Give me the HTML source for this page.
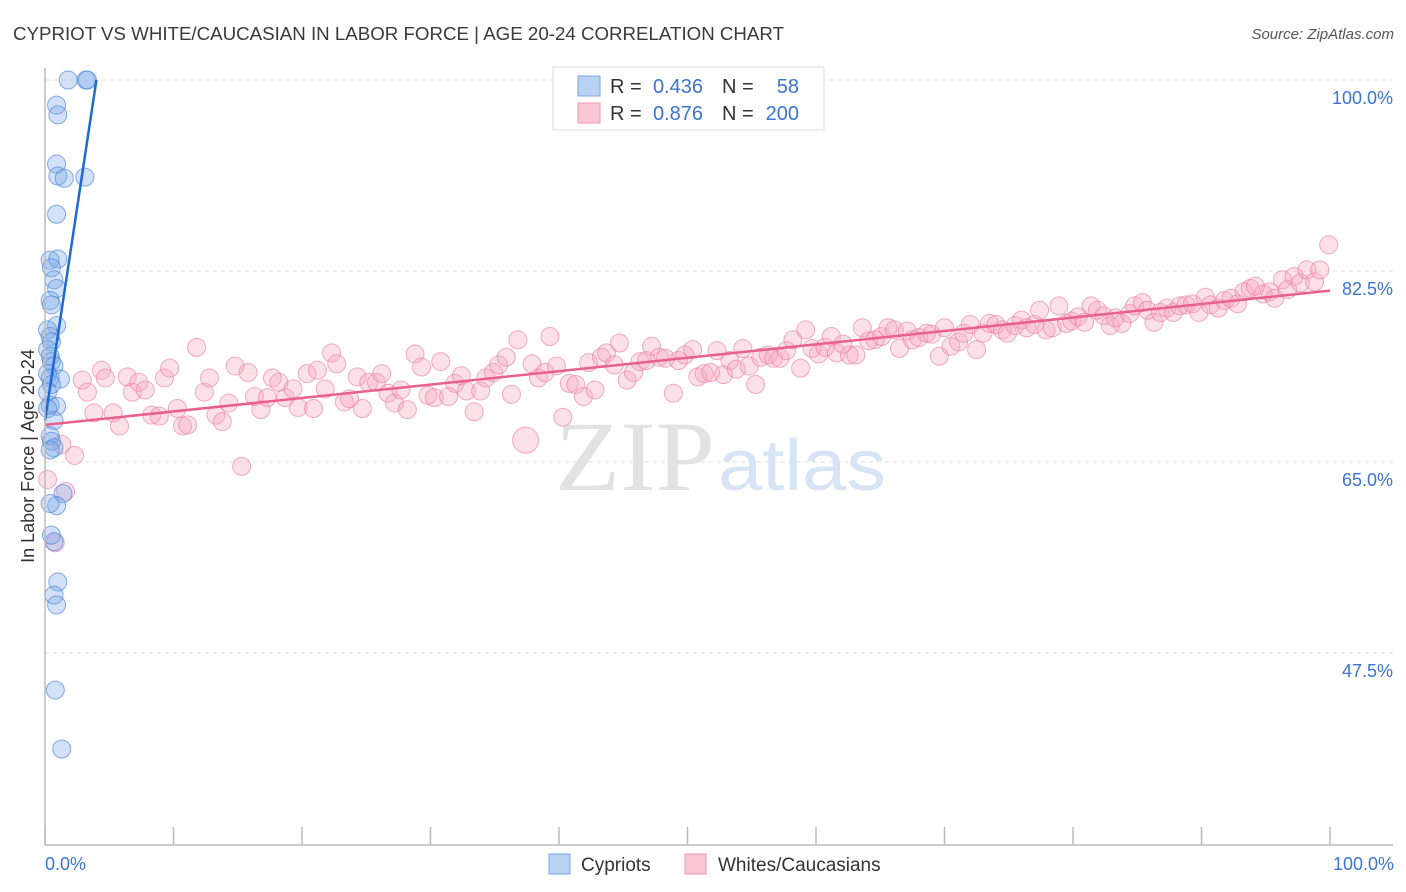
<!DOCTYPE html>
<html><head><meta charset="utf-8"><style>
body{margin:0;background:#fff;font-family:"Liberation Sans",sans-serif;}
svg{display:block}
</style></head><body>
<svg id="chart" width="1406" height="892" viewBox="0 0 1406 892" xmlns="http://www.w3.org/2000/svg">
<text x="13" y="40" font-size="18" fill="#3a3a3a" textLength="771" lengthAdjust="spacingAndGlyphs">CYPRIOT VS WHITE/CAUCASIAN IN LABOR FORCE | AGE 20-24 CORRELATION CHART</text>
<text x="1394" y="39" font-size="15" font-style="italic" fill="#555" text-anchor="end">Source: ZipAtlas.com</text>
<g id="grid"></g>
<text x="555" y="490" font-size="100" font-family="Liberation Serif,serif" fill="#e2e2e2" textLength="160" lengthAdjust="spacingAndGlyphs">ZIP</text>
<text x="718" y="490" font-size="72" fill="#d6e4f6" textLength="168" lengthAdjust="spacingAndGlyphs">atlas</text>
<g id="pinkpts"></g>
<g id="bluepts"></g>
<g id="lines"></g>
<g id="axes"></g>
<text transform="translate(34,456) rotate(-90)" font-size="18" fill="#333" text-anchor="middle">In Labor Force | Age 20-24</text>
<text x="45" y="870" font-size="18" fill="#3b74d4">0.0%</text>
<text x="1394" y="870" font-size="18" fill="#3b74d4" text-anchor="end">100.0%</text>
<g>
<rect x="553" y="67" width="271" height="63" fill="#fff" stroke="#ddd"/>
<rect x="578" y="76" width="22" height="20" fill="#b8d2f3" stroke="#7aa6e3"/>
<rect x="578" y="103" width="22" height="20" fill="#f8c6d5" stroke="#eb9ab4"/>
<text x="610" y="93" font-size="20" fill="#333">R =</text>
<text x="703" y="93" font-size="20" fill="#3b74d4" text-anchor="end">0.436</text>
<text x="722" y="93" font-size="20" fill="#333">N =</text>
<text x="799" y="93" font-size="20" fill="#3b74d4" text-anchor="end">58</text>
<text x="610" y="120" font-size="20" fill="#333">R =</text>
<text x="703" y="120" font-size="20" fill="#3b74d4" text-anchor="end">0.876</text>
<text x="722" y="120" font-size="20" fill="#333">N =</text>
<text x="799" y="120" font-size="20" fill="#3b74d4" text-anchor="end">200</text>
</g>
<g>
<rect x="549" y="854" width="21" height="20" fill="#b8d2f3" stroke="#7aa6e3"/>
<text x="581" y="871" font-size="19" fill="#333">Cypriots</text>
<rect x="685" y="854" width="21" height="20" fill="#f8c6d5" stroke="#eb9ab4"/>
<text x="718" y="871" font-size="19" fill="#333">Whites/Caucasians</text>
</g>
</svg>
<script>
const yTicks=[100,82.5,65,47.5];
const yTickLabels=["100.0%","82.5%","65.0%","47.5%"];
const xTicks=[0,10,20,30,40,50,60,70,80,90,100];
const blueX=[1.8,3.2,3.3,0.9,1.0,0.9,1.0,1.5,3.1,0.9,0.4,1.0,0.5,0.7,0.9,0.4,0.5,0.9,0.2,0.4,0.5,0.2,0.4,0.5,0.7,0.2,0.4,1.2,0.5,0.2,0.4,0.9,0.2,0.7,0.4,0.5,0.7,0.4,1.4,0.9,0.4,0.7,0.5,1.0,0.7,0.9,0.8,1.3];
const blueY=[100,100,100,97.7,96.8,92.3,91.2,91.0,91.1,87.7,83.5,83.6,82.8,81.7,80.9,79.8,79.4,77.5,77.1,76.5,76.0,75.3,74.7,74.2,73.8,73.1,72.7,72.6,72.1,71.4,70.2,70.1,69.9,68.8,67.4,66.9,66.3,66.1,62.1,61.0,61.2,57.7,58.3,54.0,52.8,51.9,44.1,38.7];
const pinkX=[0.2,1.3,2.3,1.6,0.8,2.9,3.3,3.8,4.4,4.7,5.3,5.8,6.4,6.8,7.3,7.8,8.3,8.9,9.3,9.7,10.3,10.7,11.1,11.8,12.4,12.8,13.3,13.8,14.3,14.8,15.3,15.8,16.3,16.8,17.3,17.7,18.2,18.7,19.3,19.7,20.4,20.9,21.2,21.8,22.3,22.7,23.3,23.7,24.3,24.7,25.2,25.8,26.2,26.7,27.2,27.7,28.2,28.8,29.3,29.8,30.3,30.8,31.4,31.9,32.4,32.8,33.4,33.9,34.3,34.9,35.3,35.9,36.3,36.8,37.4,37.9,38.4,38.9,39.3,39.8,40.3,40.8,41.3,41.9,42.3,42.8,43.3,43.7,44.3,44.7,45.3,45.8,46.3,46.8,47.2,47.8,48.3,48.9,49.3,49.8,50.4,50.8,51.3,51.8,52.3,52.8,53.3,53.8,54.3,54.8,55.3,55.7,56.3,56.7,57.2,57.7,58.2,58.8,59.2,59.7,60.2,60.7,61.2,61.6,62.1,62.6,63.1,63.6,64.1,64.6,65.1,65.6,66.1,66.5,67.1,67.5,68.0,68.6,69.0,69.6,70.0,70.5,71.1,71.5,72.0,72.5,73.0,73.5,74.0,74.5,74.9,75.5,76.0,76.4,77.0,77.4,77.9,78.4,78.9,79.5,79.9,80.4,80.9,81.4,81.9,82.4,82.9,83.3,83.8,84.4,84.8,85.4,85.8,86.3,86.8,87.3,87.8,88.3,88.8,89.3,89.8,90.3,90.7,91.3,91.8,92.3,92.8,93.3,93.8,94.2,94.8,95.3,95.7,96.3,96.7,97.2,97.7,98.2,98.8,99.2,99.9];
const pinkY=[63.4,66.6,65.6,62.3,57.6,72.5,71.4,69.5,73.4,72.7,69.5,68.3,72.8,71.4,72.3,71.6,69.3,69.2,72.7,73.6,69.9,68.3,68.4,75.5,71.4,72.7,69.3,68.7,70.4,73.8,64.6,73.2,71.0,69.8,70.9,72.7,72.3,70.9,71.7,70.0,73.1,69.9,73.4,71.7,75.0,74.0,70.5,70.8,72.8,69.9,72.3,72.3,73.1,71.3,70.4,71.6,69.8,74.9,73.7,71.1,70.9,74.2,71.0,72.2,72.9,71.5,69.6,71.5,72.7,73.2,73.9,74.6,71.2,76.2,67.0,74.0,72.7,73.2,76.5,73.8,69.1,72.2,72.1,71.0,74.1,71.6,74.6,75.0,73.9,75.9,72.5,73.2,74.2,74.3,75.6,74.6,74.5,71.3,74.3,74.8,75.3,72.8,73.1,73.2,75.2,73.0,74.3,73.5,75.4,73.8,72.1,74.6,74.8,74.5,74.5,75.2,76.2,73.6,77.1,75.4,74.9,75.5,76.5,75.0,75.8,74.8,74.8,77.3,76.1,76.2,76.5,77.3,77.1,75.4,77.0,76.2,76.4,76.8,76.7,74.7,77.3,75.6,76.0,76.8,77.6,75.3,76.8,77.7,77.6,77.1,76.8,77.5,78.0,77.3,77.6,78.9,77.1,77.3,79.3,77.7,77.9,78.3,77.8,79.3,78.9,78.4,77.5,78.2,77.7,78.6,79.3,79.6,78.9,77.8,78.7,79.1,78.7,79.3,79.4,79.5,78.7,80.1,79.4,79.1,79.8,80.0,79.5,80.6,80.9,81.1,80.4,80.6,80.0,81.7,80.8,82.0,81.4,82.6,81.5,82.6,84.9];
const blueTrend=[[0,68.8],[4.0,100]];
const pinkTrend=[[0,68.4],[100,80.7]];
const NS="http://www.w3.org/2000/svg";
const X=v=>45+v*12.85;
const Y=v=>80+(100-v)*10.914;
function mk(tag,attrs,parent){const e=document.createElementNS(NS,tag);for(const k in attrs)e.setAttribute(k,attrs[k]);parent.appendChild(e);return e;}
const grid=document.getElementById('grid');
yTicks.forEach((t,i)=>{
  const l=mk('line',{x1:45,x2:1393,y1:Y(t),y2:Y(t),stroke:'#ddd','stroke-dasharray':'4,4'},grid);
  
  
  const tx=mk('text',{x:1393,y:Y(t)+24,'font-size':18,fill:'#3b74d4','text-anchor':'end'},grid);
  tx.textContent=yTickLabels[i];
  
  
});
const axes=document.getElementById('axes');
const ya=mk('line',{x1:45,x2:45,y1:68,y2:845,stroke:'#bbb','stroke-width':1.5},axes);


const xa=mk('line',{x1:45,x2:1393,y1:845,y2:845,stroke:'#bbb','stroke-width':1.5},axes);


xTicks.forEach(t=>{
  const tk=mk('line',{x1:X(t),x2:X(t),y1:827,y2:845,stroke:'#bbb','stroke-width':1.5},axes);
  
  
});
const pg=document.getElementById('pinkpts');
pinkX.forEach((x,i)=>{
  const big=(Math.abs(x-37.4)<0.05&&Math.abs(pinkY[i]-67)<0.05);
  const c=mk('circle',{cx:X(x),cy:Y(pinkY[i]),r:big?13:9,fill:'rgba(245,165,190,0.35)',stroke:'rgba(232,120,158,0.6)','stroke-width':1},pg);
  
  
});
const bg=document.getElementById('bluepts');
blueX.forEach((x,i)=>{
  const c=mk('circle',{cx:X(x),cy:Y(blueY[i]),r:9,fill:'rgba(125,170,232,0.35)',stroke:'rgba(70,130,215,0.65)','stroke-width':1},bg);
  
  
});
const lg=document.getElementById('lines');
const bl=mk('line',{x1:X(blueTrend[0][0]),y1:Y(blueTrend[0][1]),x2:X(blueTrend[1][0]),y2:Y(blueTrend[1][1]),stroke:'#1e68d8','stroke-width':2.5},lg);


const pl=mk('line',{x1:X(pinkTrend[0][0]),y1:Y(pinkTrend[0][1]),x2:X(pinkTrend[1][0]),y2:Y(pinkTrend[1][1]),stroke:'#e8608c','stroke-width':2.5},lg);


</script>
</body></html>
